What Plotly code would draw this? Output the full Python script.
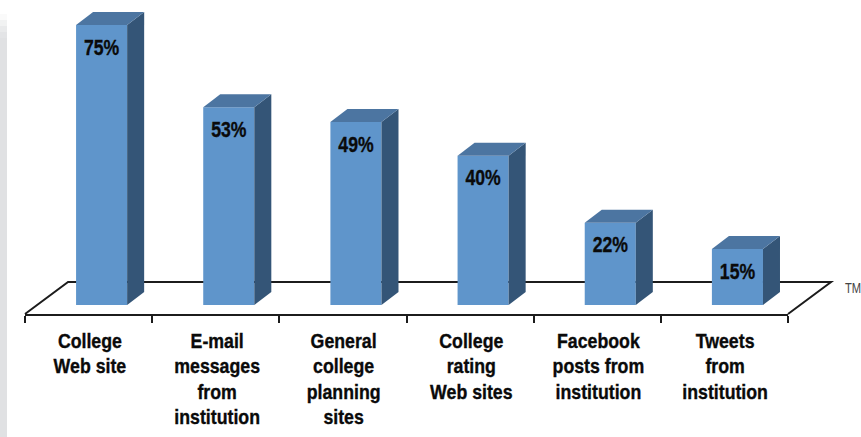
import plotly.graph_objects as go

categories = ["College<br>Web site", "E-mail<br>messages<br>from<br>institution",
              "General<br>college<br>planning<br>sites", "College<br>rating<br>Web sites",
              "Facebook<br>posts from<br>institution", "Tweets<br>from<br>institution"]
values = [75, 53, 49, 40, 22, 15]
value_labels = ["75%", "53%", "49%", "40%", "22%", "15%"]

W, H = 861, 437
ML, MR, MT, MB = 25, 73, 0, 123
UX = 127.0            # px per category
UY = 3.733            # px per percent
YMIN = -9 / UY
YMAX = (H - MB) / UY + YMIN
BAR_L = -12.5 / UX
BAR_W = 51 / UX
DX = 17 / UX
DY = 13 / UY
FLOOR_DX = 43 / UX
FLOOR_DY = 32 / UY

FONT = "Liberation Sans"
FRONT, TOP, SIDE = "#5F95CB", "#4C75A1", "#345577"
INK = "#1c1c1c"

fig = go.Figure()
xs = list(range(len(values)))
fig.add_trace(go.Bar(x=xs, y=values, base=0, offset=BAR_L, width=BAR_W,
                     marker=dict(color=FRONT, line=dict(width=0)), showlegend=False))

for i, v in zip(xs, values):
    l = i + BAR_L
    r = l + BAR_W
    fig.add_trace(go.Scatter(x=[r, r + DX, r + DX, r, r], y=[0, DY, v + DY, v, 0], mode="lines",
                             fill="toself", fillcolor=SIDE, line=dict(width=0), showlegend=False,
                             hoverinfo="skip", cliponaxis=False))
    fig.add_trace(go.Scatter(x=[l, r, r + DX, l + DX, l], y=[v, v, v + DY, v + DY, v], mode="lines",
                             fill="toself", fillcolor=TOP, line=dict(width=0), showlegend=False,
                             hoverinfo="skip", cliponaxis=False))

fig.add_trace(go.Scatter(x=[i + BAR_L + BAR_W / 2 for i in xs], y=[v - 24 / UY for v in values],
                         mode="text", text=value_labels, textposition="middle center",
                         textfont=dict(family=FONT, size=22, color="#0a0a0a", weight="bold"),
                         showlegend=False, cliponaxis=False))

def px(x):
    return (x + 0.5) / len(values)
def py(y):
    return (y - YMIN) / (YMAX - YMIN)

floor_x = [-0.5, -0.5 + FLOOR_DX, 5.5 + FLOOR_DX, 5.5]
floor_y = [YMIN, YMIN + FLOOR_DY, YMIN + FLOOR_DY, YMIN]
path = "M " + " L ".join(f"{px(a):.5f} {py(b):.5f}" for a, b in zip(floor_x, floor_y))
shapes = [dict(type="path", path=path, xref="paper", yref="paper", layer="below",
               line=dict(color=INK, width=2))]

# soft grey band at the page's left edge
band = [(14, "#fafafa"), (20, "#f1f2f2"), (26, "#e9eaeb"), (32, "#e3e4e6"), (38, "#e0e1e3")]
for y0, c in band:
    shapes.append(dict(type="rect", xref="paper", yref="paper", layer="below",
                       x0=-ML / (W - ML - MR), x1=(7 - ML) / (W - ML - MR),
                       y0=(H - MB - H) / (H - MB), y1=(H - MB - y0) / (H - MB),
                       fillcolor=c, line=dict(width=0)))

annotations = [dict(x=i, y=YMIN, xref="x", yref="y", text=c, showarrow=False, yanchor="top",
                    xanchor="center", xshift=1, yshift=-14, align="center",
                    font=dict(family=FONT, size=19.5, color="#0a0a0a", weight="bold"))
               for i, c in zip(xs, categories)]
annotations.append(dict(x=(841 - ML) / (W - ML - MR), y=(H - MB - 288) / (H - MB),
                        xref="paper", yref="paper", text="TM", showarrow=False,
                        xanchor="left", yanchor="middle",
                        font=dict(family=FONT, size=14, color="#444444")))

fig.update_layout(
    width=W, height=H, autosize=False, margin=dict(l=ML, r=MR, t=MT, b=MB, pad=0),
    paper_bgcolor="white", plot_bgcolor="rgba(0,0,0,0)", showlegend=False,
    xaxis=dict(range=[-0.5, 5.5], tickmode="array", tickvals=[i - 0.5 for i in range(7)],
               ticktext=[""] * 7, ticks="outside", ticklen=7, tickwidth=2, tickcolor=INK,
               showline=True, linecolor=INK, linewidth=2, showgrid=False, zeroline=False),
    yaxis=dict(range=[YMIN, YMAX], visible=False),
    shapes=shapes, annotations=annotations,
)

post = """
document.body.style.margin = '0';
document.body.style.overflow = 'hidden';
document.querySelectorAll('.annotation-text, .textpoint text').forEach(function (t) {
  var tm = t.textContent === 'TM';
  var isValue = t.textContent.indexOf('%') >= 0;
  t.style.transformBox = 'fill-box';
  t.style.transformOrigin = 'center';
  t.style.transform = 'scaleX(' + (tm || isValue ? 0.8 : 0.91) + ')';
  if (!tm) { t.style.stroke = '#0a0a0a'; t.style.strokeWidth = '0.35px'; }
});
"""
fig.write_html("out.html", config={"displayModeBar": False}, post_script=post)
